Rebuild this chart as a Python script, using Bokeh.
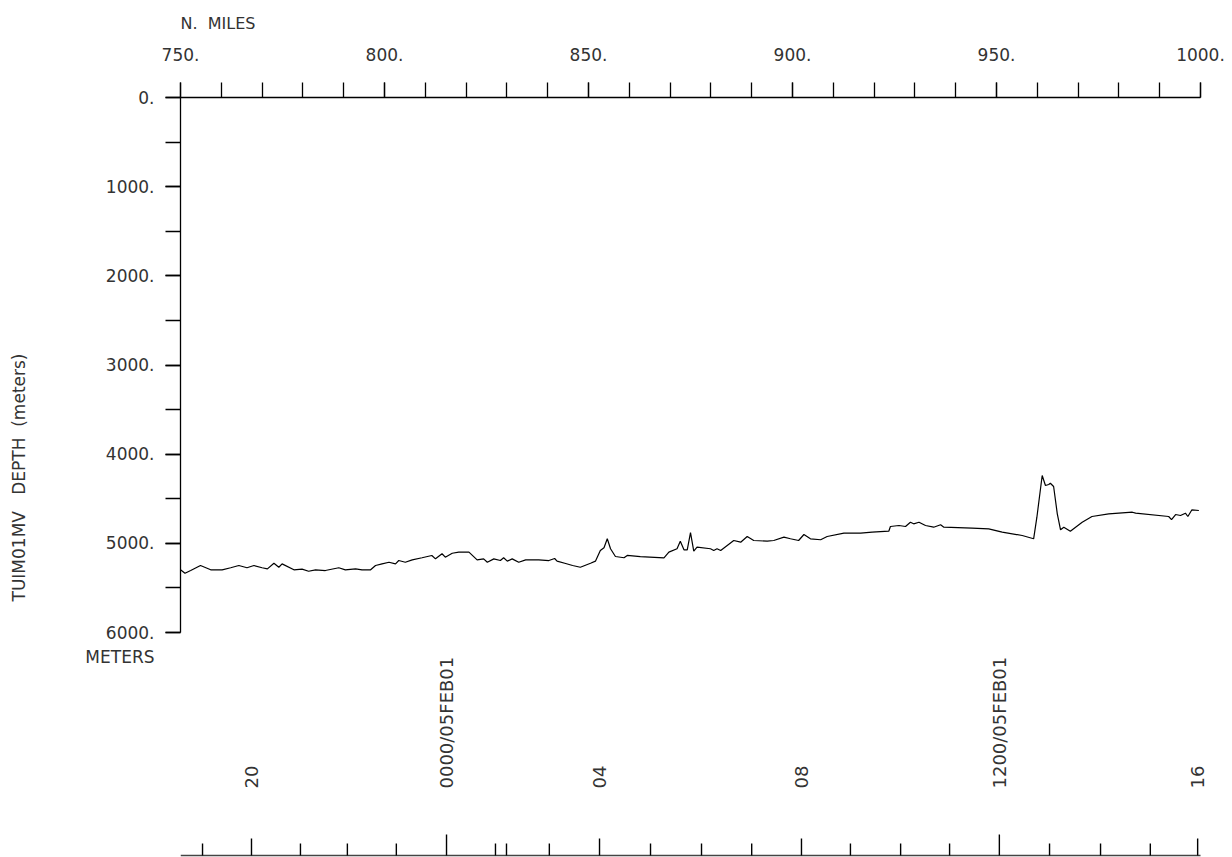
import math
from bokeh.plotting import figure
from bokeh.models import (Range1d, LinearAxis, SingleIntervalTicker, FixedTicker,
                          PrintfTickFormatter, Title, ColumnDataSource)
from bokeh.embed import file_html
from bokeh.resources import INLINE
from bokeh.core.properties import value

# ---------------- data ----------------
distance_nmi = [
    750.0, 751.1, 752.5, 754.9, 757.4, 760.2, 762.3, 764.3, 766.3, 768.0,
    770.0, 771.3, 772.9, 774.1, 774.9, 777.8, 779.8, 781.4, 783.1, 785.5,
    788.8, 790.4, 792.9, 794.5, 796.6, 797.8, 799.4, 801.1, 802.7, 803.5,
    805.1, 806.8, 809.2, 811.6, 812.5, 814.1, 814.9, 816.6, 818.2, 820.7,
    822.7, 824.3, 825.2, 826.8, 828.4, 829.2, 830.1, 831.3, 832.9, 834.6,
    837.8, 840.3, 841.7, 842.3, 844.4, 846.1, 848.0, 850.5, 851.7, 852.9,
    853.8, 854.6, 855.4, 856.6, 858.7, 859.5, 862.7, 868.5, 869.7, 871.7,
    872.5, 873.4, 874.2, 875.0, 875.8, 876.6, 879.9, 880.7, 881.5, 882.4,
    884.0, 885.6, 887.3, 888.9, 890.5, 893.8, 895.4, 897.9, 899.5, 901.5,
    902.8, 904.4, 906.9, 908.5, 912.6, 916.7, 919.5, 923.6, 924.0, 926.1,
    927.7, 928.9, 929.7, 931.0, 932.6, 934.6, 936.3, 937.1, 944.0, 948.1,
    951.4, 956.3, 959.1, 959.9, 961.2, 962.0, 962.8, 963.2, 964.0, 964.9,
    965.7, 966.5, 968.1, 971.0, 973.4, 977.5, 983.3, 984.1, 992.2, 992.9,
    993.9, 995.1, 996.3, 996.9, 997.9, 999.6,
]
depth_m = [
    5297, 5335, 5305, 5249, 5297, 5297, 5274, 5249, 5274, 5249,
    5274, 5286, 5223, 5268, 5230, 5297, 5290, 5313, 5297, 5305,
    5274, 5297, 5286, 5297, 5297, 5249, 5230, 5212, 5230, 5193,
    5212, 5185, 5162, 5136, 5174, 5117, 5155, 5111, 5099, 5099,
    5185, 5174, 5212, 5174, 5193, 5162, 5200, 5174, 5212, 5185,
    5185, 5193, 5170, 5200, 5226, 5249, 5268, 5223, 5200, 5080,
    5050, 4949, 5061, 5148, 5162, 5136, 5148, 5162, 5099, 5061,
    4976, 5073, 5073, 4879, 5088, 5043, 5061, 5080, 5061, 5080,
    5024, 4968, 4987, 4923, 4968, 4976, 4968, 4931, 4949, 4968,
    4901, 4949, 4960, 4923, 4886, 4886, 4875, 4864, 4811, 4800,
    4811, 4763, 4781, 4763, 4800, 4819, 4792, 4819, 4830, 4837,
    4875, 4912, 4949, 4707, 4239, 4351, 4340, 4326, 4363, 4669,
    4848, 4819, 4864, 4763, 4699, 4669, 4651, 4662, 4699, 4735,
    4677, 4688, 4662, 4699, 4624, 4632,
]

# time axis (hourly ticks placed along the track distance)
time_tick_nmi = [755.4, 767.4, 779.4, 790.9, 802.9, 815.2, 827.2, 829.9,
                 840.4, 852.7, 865.2, 877.7, 890.0, 902.2, 914.2, 926.5,
                 938.5, 950.7, 963.0, 975.5, 987.7, 999.3]
time_tick_labels = ["", "20", "", "", "", "0000/05FEB01", "", "", "", "04",
                    "", "", "", "08", "", "", "", "1200/05FEB01", "", "", "",
                    "16"]

x_start, x_end = 750, 1000
depth_top, depth_bottom = 0, 6000

NB = "\u00a0"
x_title = "N." + NB * 2 + "MILES"
y_title = "TUIM01MV" + NB * 3 + "DEPTH" + NB * 2 + "(meters)"
y_unit = "METERS"

# ---------------- style ----------------
FONT = "DejaVu Sans"
TXT = "#333333"
W, H = 1232, 857
LEFT, TOP, RIGHT_PAD = 180, 97, 20
FRAME_H = H - TOP                 # frame height in pixels
FRAME_W = W - LEFT - RIGHT_PAD
AXIS_W = 1200 - LEFT              # pixels covered by 750..1000
DEPTH_PX = 535                    # pixels covered by 0..6000 m
y_bottom = depth_bottom * FRAME_H / DEPTH_PX
x_right = x_start + (x_end - x_start) * FRAME_W / AXIS_W

p = figure(width=W, height=H,
           x_range=Range1d(x_start, x_right), y_range=Range1d(y_bottom, depth_top),
           output_backend="svg", toolbar_location=None,
           x_axis_location=None, y_axis_location=None,
           min_border_left=LEFT, min_border_right=RIGHT_PAD,
           min_border_top=TOP, min_border_bottom=0)
p.outline_line_color = None
p.grid.visible = False
p.background_fill_color = "white"
p.border_fill_color = "white"

# top distance axis
top = LinearAxis(ticker=SingleIntervalTicker(interval=50, num_minor_ticks=5),
                 formatter=PrintfTickFormatter(format="%d."),
                 bounds=(x_start, x_end))
top.major_tick_out = 15
top.major_tick_in = 0
top.minor_tick_out = 15
top.minor_tick_in = 0
top.major_label_standoff = 22
top.major_label_text_font = FONT
top.major_label_text_font_size = "17px"
top.major_label_text_color = TXT
top.axis_line_color = "black"
top.axis_line_width = 1.3
top.major_tick_line_width = 1.3
top.minor_tick_line_width = 1.3
p.add_layout(top, "above")
p.add_layout(Title(text=x_title, align="left", text_font=FONT,
                   text_font_size="16px", text_color=TXT,
                   text_font_style="normal", standoff=23), "above")

# left depth axis
left = LinearAxis(ticker=SingleIntervalTicker(interval=1000, num_minor_ticks=2),
                  formatter=PrintfTickFormatter(format="%d."),
                  bounds=(depth_top, depth_bottom),
                  major_label_overrides={depth_bottom: "\n%d.\n%s" % (depth_bottom, y_unit)})
left.major_tick_out = 15
left.major_tick_in = 0
left.minor_tick_out = 15
left.minor_tick_in = 0
left.major_label_standoff = 11
left.major_label_text_font = FONT
left.major_label_text_font_size = "17px"
left.major_label_text_color = TXT
left.axis_line_color = "black"
left.axis_line_width = 1.3
left.major_tick_line_width = 1.3
left.minor_tick_line_width = 1.3
p.add_layout(left, "left")

# outer axis carrying only the vertical title, centred on the whole frame
title_axis = LinearAxis(ticker=FixedTicker(ticks=[]), bounds=(depth_top, y_bottom),
                        axis_label=y_title)
title_axis.axis_line_color = None
title_axis.major_tick_line_color = None
title_axis.minor_tick_line_color = None
title_axis.major_tick_out = 0
title_axis.minor_tick_out = 0
title_axis.major_label_text_font_size = "0px"
title_axis.major_label_standoff = 0
title_axis.axis_label_standoff = 54
title_axis.axis_label_text_font = FONT
title_axis.axis_label_text_font_size = "17px"
title_axis.axis_label_text_font_style = "normal"
title_axis.axis_label_text_color = TXT
p.add_layout(title_axis, "left")

# depth profile
p.line(distance_nmi, depth_m, line_color="black", line_width=1.2)

# bottom time axis drawn in a pixel range
p.extra_y_ranges = {"px": Range1d(0, FRAME_H)}
BASE = 2
p.segment(x0=[x_start], x1=[x_end], y0=[BASE], y1=[BASE],
          y_range_name="px", line_color="#444444", line_width=1.6)
tick_len = [21 if "/" in t else (17 if t else 12) for t in time_tick_labels]
tick_src = ColumnDataSource(dict(x=time_tick_nmi,
                                 y0=[BASE] * len(time_tick_nmi),
                                 y1=[BASE + L for L in tick_len]))
p.segment(x0="x", x1="x", y0="y0", y1="y1", source=tick_src,
          y_range_name="px", line_color="black", line_width=1.4)
lab_x = [x for x, t in zip(time_tick_nmi, time_tick_labels) if t]
lab_t = [t for t in time_tick_labels if t]
p.text(x=lab_x, y=[BASE + 67] * len(lab_x), text=lab_t, angle=math.pi / 2,
       text_align="left", text_baseline="middle", y_range_name="px",
       text_font=value(FONT), text_font_size="18px", text_color=TXT)

open("out.html", "w").write(file_html(p, INLINE))
